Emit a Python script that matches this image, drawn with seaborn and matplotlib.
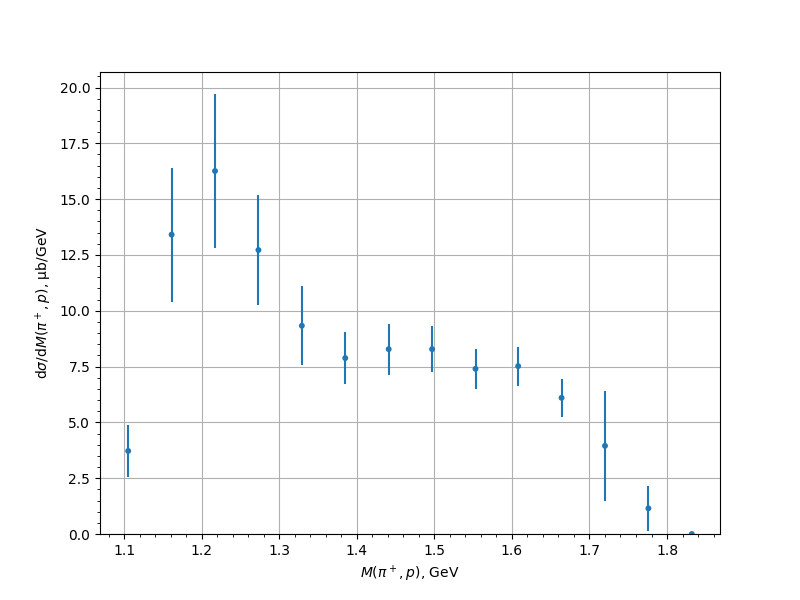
import numpy as np
import matplotlib
matplotlib.use('Agg')
import matplotlib.pyplot as plt
import seaborn as sns

# инвариантная масса pi+ p, центры бинов (GeV)
mass = [1.105, 1.161, 1.217, 1.273, 1.329, 1.385, 1.441,
        1.497, 1.553, 1.608, 1.664, 1.720, 1.776, 1.832]
# dsigma/dM, mub/GeV
xsec = [3.72, 13.41, 16.26, 12.72, 9.33, 7.88, 8.28,
        8.28, 7.40, 7.52, 6.10, 3.95, 1.15, 0.0]
xsec_err = [1.15, 3.00, 3.45, 2.45, 1.76, 1.18, 1.14,
            1.03, 0.89, 0.87, 0.85, 2.46, 1.00, 0.0]

fig, ax = plt.subplots(figsize=(8, 6), dpi=100)

ax.errorbar(mass, xsec, yerr=xsec_err, fmt='none', ecolor='tab:blue', elinewidth=1.5)
sns.scatterplot(x=np.array(mass), y=np.array(xsec), ax=ax, color='tab:blue',
                s=18, edgecolor='none', zorder=3)

ax.set_xlabel(r'$M(\pi^+, p)$, GeV')
ax.set_ylabel(r'$\mathrm{d}\sigma/\mathrm{d}M(\pi^+, p)$, μb/GeV')
ax.set_ylim(bottom=0)
ax.minorticks_on()
ax.grid(True, which='major')

plt.savefig('out.png', dpi=100)
